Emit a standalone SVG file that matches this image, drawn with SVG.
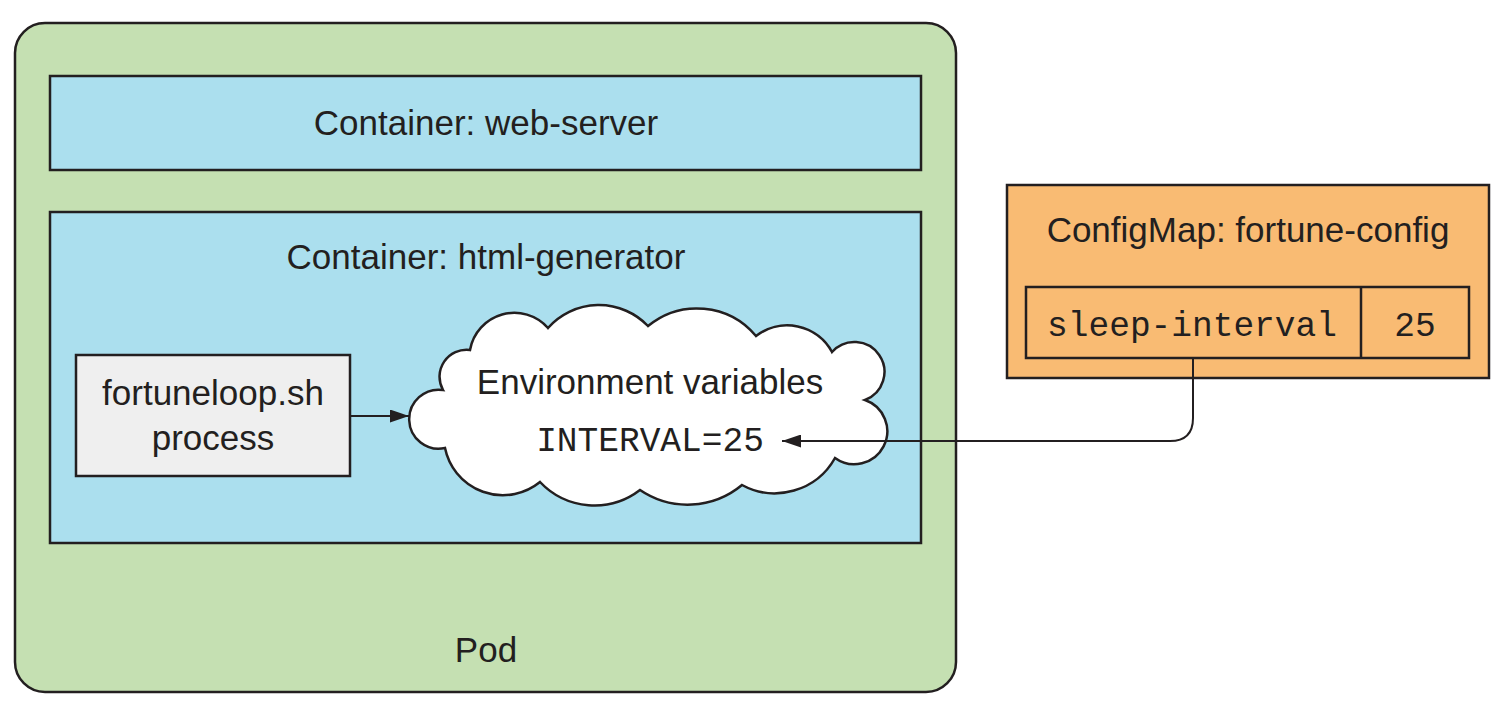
<svg xmlns="http://www.w3.org/2000/svg" width="1508" height="720" viewBox="0 0 1508 720">
<style>
.box{stroke:#231f20;stroke-width:2.5}
.sans{font-family:"Liberation Sans",Arial,sans-serif;font-size:35px;fill:#231f20;text-anchor:middle}
.mono{font-family:"Liberation Mono","Courier New",monospace;font-size:34.5px;fill:#231f20;text-anchor:middle}
.conn{fill:none;stroke:#231f20;stroke-width:2}
</style>
<defs>
<marker id="arrow" viewBox="0 0 19 13" refX="19" refY="6.5" markerWidth="19" markerHeight="13" markerUnits="userSpaceOnUse" orient="auto">
<path d="M0,0 L19,6.5 L0,13 Z" fill="#231f20"/>
</marker>
</defs>
<rect width="1508" height="720" fill="#ffffff"/>
<g id="pod">
<rect class="box" x="15" y="23" width="941" height="669" rx="30" fill="#c5e0b2"/>
<text class="sans" x="486" y="662">Pod</text>
</g>
<g id="web-server">
<rect class="box" x="50" y="76" width="871" height="94" fill="#abdfee"/>
<text class="sans" x="486" y="135">Container: web-server</text>
</g>
<g id="html-generator">
<rect class="box" x="50" y="212" width="871" height="331" fill="#abdfee"/>
<text class="sans" x="486" y="269">Container: html-generator</text>
</g>
<g id="fortuneloop">
<rect class="box" x="76" y="355" width="274" height="121" fill="#efefef"/>
<text class="sans" x="213" y="405">fortuneloop.sh</text>
<text class="sans" x="213" y="450">process</text>
</g>
<g id="env-cloud">
<path class="box" fill="#ffffff" d="M443,390 A27,27 0 0 1 470,350 A45,45 0 0 1 548,328 A68,68 0 0 1 648,326 A77,77 0 0 1 756,336 A51,51 0 0 1 832,352 A30,30 0 1 1 865,400 A33,33 0 1 1 835,458 A69,69 0 0 1 742,485 A85,85 0 0 1 640,490 A75,75 0 0 1 540,482 A59,59 0 0 1 445,448 A29.5,29.5 0 1 1 443,390 Z"/>
<text class="sans" x="650" y="394">Environment variables</text>
<text class="mono" x="650" y="451">INTERVAL=25</text>
</g>
<g id="configmap">
<rect class="box" x="1007" y="185" width="482" height="193" fill="#f9bb73"/>
<text class="sans" x="1248" y="242">ConfigMap: fortune-config</text>
<rect class="box" x="1026" y="287" width="443" height="71" fill="#f9bb73"/>
<line class="box" x1="1361" y1="287" x2="1361" y2="358"/>
<text class="mono" x="1192" y="336">sleep-interval</text>
<text class="mono" x="1415" y="336">25</text>
</g>
<g id="connectors">
<line class="conn" x1="350" y1="416" x2="409" y2="416" marker-end="url(#arrow)"/>
<path class="conn" d="M1193,358 L1193,418 Q1193,441 1170,441 L782,441" marker-end="url(#arrow)"/>
</g>
</svg>
